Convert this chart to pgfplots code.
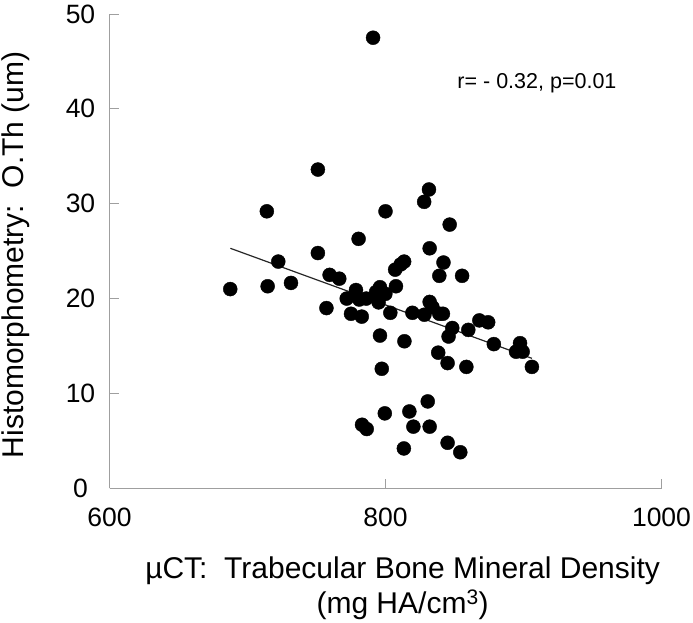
\documentclass[border=0pt]{standalone}
\usepackage{fontspec}
\setmainfont{Liberation Sans}
\usepackage{pgfplots}
\pgfplotsset{compat=1.18}
\begin{document}
\begin{tikzpicture}[x=1pt,y=1pt]
\useasboundingbox (0,0) rectangle (693,622);
\begin{axis}[
  at={(109.5pt,133.7pt)}, anchor=south west,
  width=552pt, height=474.3pt, scale only axis,
  xmin=600, xmax=1000, ymin=0, ymax=50,
  xtick={600,800,1000}, ytick={0,10,20,30,40,50},
  axis lines=left,
  axis line style={draw=gray!75, line width=0.9pt, -},
  tick style={draw=gray!75, line width=0.9pt},
  major tick length=9pt, tick align=inside,
  /pgf/number format/assume math mode=true,
  /pgf/number format/set thousands separator={},
  xticklabel style={font=\fontsize{26.5}{30}\selectfont, anchor=center, yshift=-29.5pt},
  yticklabel style={font=\fontsize{26.5}{30}\selectfont, anchor=center, xshift=-29pt},
  xlabel={\textmu CT:\ \ Trabecular Bone Mineral Density\\(mg HA/cm\textsuperscript{3})},
  xlabel style={font=\fontsize{30}{35}\selectfont, align=center, at={(axis description cs:0.531,-0.21)}, anchor=center},
  ylabel={Histomorphometry:\ \ O.Th (um)},
  ylabel style={font=\fontsize{30}{35}\selectfont, at={(axis description cs:-0.170,0.492)}, anchor=center},
  clip=false,
]
\addplot[only marks, mark=*, mark size=7pt, mark options={fill=black, draw=black}] coordinates {
(791,47.5) (751,33.6) (831.5,31.5) (828,30.2) (714,29.2) (800,29.2)
(846.5,27.8) (780.5,26.3) (832,25.3) (751,24.8) (722.3,23.9) (813.5,23.9)
(811,23.6) (807,23.05) (842,23.8) (759.5,22.5) (766.5,22.1) (839,22.4)
(855.5,22.4) (731.5,21.65) (714.6,21.3) (687.5,21.0) (807.6,21.3) (796,21.2)
(778.6,20.9) (793.2,20.7) (799.9,20.5) (771.9,20.0) (781,19.9) (786,20.0)
(795,19.6) (832,19.65) (834,19.1) (757.2,19.0) (775,18.4) (782.8,18.1)
(803.5,18.5) (819.5,18.5) (828.2,18.3) (839,18.4) (841.6,18.4) (868,17.7)
(874.4,17.5) (848.4,16.9) (860,16.7) (796,16.1) (845.7,16.0) (813.7,15.5)
(878.5,15.2) (897.5,15.3) (894.6,14.4) (899.4,14.4) (838.2,14.3) (845,13.2)
(858.6,12.8) (906.1,12.8) (797.3,12.6) (830.6,9.16) (799.5,7.9) (817.3,8.1)
(783,6.7) (786.4,6.25) (820.2,6.5) (832,6.5) (813.3,4.2) (845,4.8)
(854.2,3.8)
};
\addplot[black!85, line width=1.2pt] coordinates {(687.6,25.3) (906.1,13.7)};
\node[font=\fontsize{21.5}{25}\selectfont, anchor=west] at (axis cs:849.6,42.7) {r= - 0.32, p=0.01};
\end{axis}
\end{tikzpicture}
\end{document}
